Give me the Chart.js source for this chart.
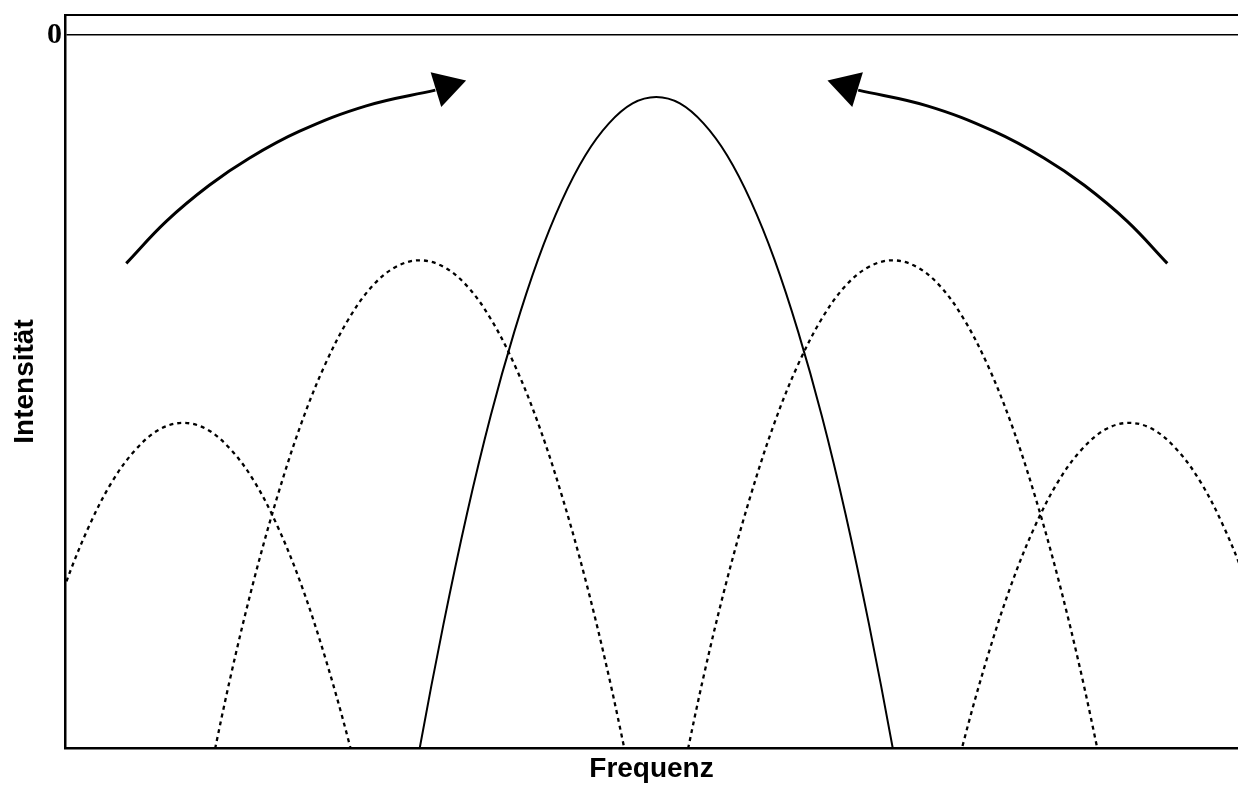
<!DOCTYPE html>
<html>
<head>
<meta charset="utf-8">
<script src="https://cdn.jsdelivr.net/npm/chart.js@4.4.1/dist/chart.umd.min.js"></script>
<style>
  html, body { margin: 0; padding: 0; background: #fff; overflow: hidden; }
  canvas { display: block; }
</style>
</head>
<body>
<canvas id="lobeChart" width="1238" height="787"></canvas>
<script>
// frequency in units of lobe spacing, intensity in dB-like units (0 = top line)
const mainX = [-1.1, -1.0, -0.9, -0.8, -0.7, -0.6, -0.5, -0.4, -0.3, -0.2, -0.1, 0,
               0.1, 0.2, 0.3, 0.4, 0.5, 0.6, 0.7, 0.8, 0.9, 1.0, 1.1];
const mainY = [-119.2, -100.0, -82.7, -67.1, -53.4, -41.6, -31.5, -23.3, -16.9, -12.4, -9.6, -8.7,
               -9.6, -12.4, -16.9, -23.3, -31.5, -41.6, -53.4, -67.1, -82.7, -100.0, -119.2];

const sideLeftX = [-1.9, -1.8, -1.7, -1.6, -1.5, -1.4, -1.3, -1.2, -1.1, -1.0,
                   -0.9, -0.8, -0.7, -0.6, -0.5, -0.4, -0.3, -0.2, -0.1];
const sideRightX = [0.1, 0.2, 0.3, 0.4, 0.5, 0.6, 0.7, 0.8, 0.9, 1.0,
                    1.1, 1.2, 1.3, 1.4, 1.5, 1.6, 1.7, 1.8, 1.9];
const sideY = [-105.6, -90.0, -76.3, -64.5, -54.4, -46.2, -39.8, -35.2, -32.5, -31.6,
               -32.5, -35.2, -39.8, -46.2, -54.4, -64.5, -76.3, -90.0, -105.6];

const outerLeftX = [-2.6, -2.5, -2.4, -2.3, -2.2, -2.1, -2.0, -1.9, -1.8, -1.7, -1.6, -1.5, -1.4, -1.3, -1.2];
const outerLeftY = [-87.3, -77.2, -69.0, -62.6, -58.1, -55.3, -54.4, -55.3, -58.1, -62.6, -69.0, -77.2, -87.3, -99.1, -112.8];
const outerRightX = [1.2, 1.3, 1.4, 1.5, 1.6, 1.7, 1.8, 1.9, 2.0, 2.1, 2.2, 2.3, 2.4, 2.5, 2.6];
const outerRightY = [-112.8, -99.1, -87.3, -77.2, -69.0, -62.6, -58.1, -55.3, -54.4, -55.3, -58.1, -62.6, -69.0, -77.2, -87.3];

// curved arrows
const arrowLeftX = [-2.241, -2.072, -1.890, -1.721, -1.510, -1.226, -0.934];
const arrowLeftY = [-32.03, -26.14, -21.08, -17.28, -13.53, -9.94, -7.74];
const arrowRightX = [2.161, 1.992, 1.810, 1.641, 1.429, 1.146, 0.854];
const arrowRightY = [-32.03, -26.14, -21.08, -17.28, -13.53, -9.94, -7.74];
const headX = [-0.889, 0.809];
const headY = [-7.25, -7.25];
const headAngle = [73, -73];

const yTicks = [0];

function toPoints(xs, ys) {
  return xs.map((x, i) => ({ x: x, y: ys[i] }));
}

const titleFont = { family: 'Liberation Sans', weight: 'bold', size: 28 };

function lobe(xs, ys, dashed) {
  return {
    data: toPoints(xs, ys),
    borderColor: '#000',
    borderWidth: dashed ? 2.3 : 2,
    borderDash: dashed ? [4, 4] : [],
    pointRadius: 0,
    tension: 0.35,
    fill: false
  };
}

function arrow(xs, ys) {
  return {
    data: toPoints(xs, ys),
    borderColor: '#000',
    borderWidth: 3,
    pointRadius: 0,
    tension: 0.4,
    fill: false
  };
}

// no extra label padding around the plot box
function noPad(s) {
  s.paddingTop = 0;
  s.paddingBottom = 0;
  s.paddingLeft = 0;
  s.paddingRight = 0;
}

const ctx = document.getElementById('lobeChart').getContext('2d');
new Chart(ctx, {
  type: 'line',
  data: {
    datasets: [
      lobe(mainX, mainY, false),
      lobe(sideLeftX, sideY, true),
      lobe(sideRightX, sideY, true),
      lobe(outerLeftX, outerLeftY, true),
      lobe(outerRightX, outerRightY, true),
      arrow(arrowLeftX, arrowLeftY),
      arrow(arrowRightX, arrowRightY),
      {
        type: 'scatter',
        data: toPoints(headX, headY),
        pointStyle: 'triangle',
        pointRadius: 21,
        pointRotation: headAngle,
        pointBackgroundColor: '#000',
        pointBorderWidth: 0,
        showLine: false
      }
    ]
  },
  options: {
    responsive: false,
    animation: false,
    events: [],
    layout: { autoPadding: false, padding: { top: 15, right: 0, bottom: 0, left: 0 } },
    plugins: {
      legend: { display: false },
      tooltip: { enabled: false }
    },
    scales: {
      x: {
        type: 'linear',
        position: 'bottom',
        min: -2.5,
        max: 2.46,
        afterFit: s => { s.height = 39; noPad(s); },
        grid: { display: false },
        ticks: { display: false },
        border: { display: true, color: '#000', width: 2.5 },
        title: {
          display: true,
          text: 'Frequenz',
          color: '#000',
          font: titleFont,
          padding: { top: 0, bottom: 1 }
        }
      },
      xTop: {
        type: 'linear',
        position: 'top',
        min: -2.5,
        max: 2.46,
        afterFit: s => { s.height = 0; noPad(s); },
        grid: { display: false },
        ticks: { display: false },
        border: { display: true, color: '#000', width: 2 }
      },
      y: {
        type: 'linear',
        min: -100,
        max: 2.8,
        afterFit: s => { s.width = 65; noPad(s); },
        afterBuildTicks: s => { s.ticks = yTicks.map(v => ({ value: v })); },
        grid: { drawTicks: false, color: '#000', lineWidth: 1.5 },
        border: { display: true, color: '#000', width: 2.5 },
        ticks: {
          padding: 3,
          color: '#000',
          font: { family: 'Liberation Serif', weight: 'bold', size: 30 },
          callback: v => String(v)
        },
        title: {
          display: true,
          text: 'Intensität',
          color: '#000',
          font: titleFont,
          padding: { top: 8, bottom: 0 }
        }
      }
    }
  }
});
</script>
</body>
</html>
